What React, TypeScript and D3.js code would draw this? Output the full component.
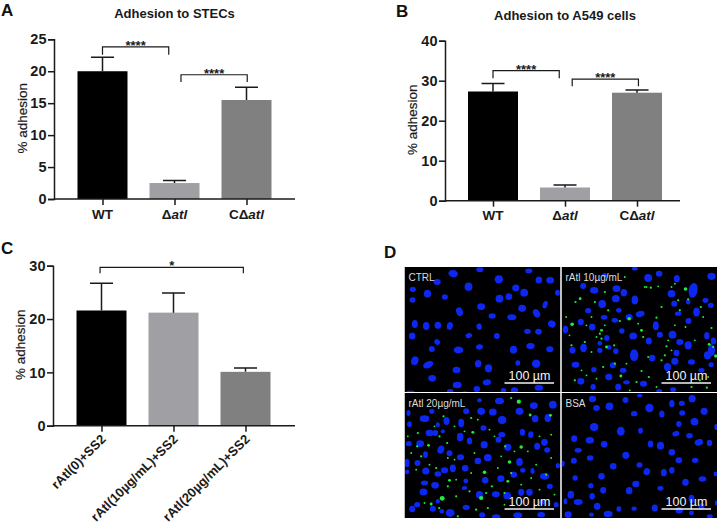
import React, { useEffect, useRef } from "react";
import * as d3 from "d3";

const FONT = "'Liberation Sans', Arial, sans-serif";

// Panel A
const stecValues = [20, 2.5, 15.5];
const stecErrors = [22.2, 2.9, 17.5];
const stecTicks = [0, 5, 10, 15, 20, 25];
// Panel B
const a549Values = [27.3, 3.3, 27];
const a549Errors = [29.3, 3.9, 27.7];
const a549Ticks = [0, 10, 20, 30, 40];
// Panel C
const ratlValues = [21.6, 21.2, 10.1];
const ratlErrors = [26.7, 24.9, 10.8];
const ratlTicks = [0, 10, 20, 30];
const ratlLabels = ["rAtl(0)+SS2", "rAtl(10µg/mL)+SS2", "rAtl(20µg/mL)+SS2"];
const barColors = ["#000000", "#a0a0a4", "#808080"];
const strainPrefix = ["WT", "Δ", "CΔ"];
const strainItalic = ["", "atl", "atl"];

// brackets: x from, x to (category position), top value, foot value, star text
const stecBrackets = [[0, 0.92, 23.8, 22.6, "****"], [1.09, 2.01, 19.45, 18.3, "****"]];
const a549Brackets = [[0, 0.92, 32.5, 30.6, "****"], [1.1, 2.02, 30.4, 28.6, "****"]];
const ratlBrackets = [[-0.02, 1.97, 29.7, 28.6, "*"]];

// micrograph nuclei [x, y, rx, ry, angle] and green foci [x, y, r], in units of a 471x381 field
const ctrlCells = [[146,20,16,12,10],[226,8,12,8,0],[373,12,12,8,0],[98,45,12,10,0],[283,37,14,14,0],[403,39,11,12,0],[437,40,13,11,0],[192,59,13,14,0],[25,67,10,9,0],[69,80,12,13,0],[334,63,12,12,0],[359,77,13,13,0],[459,77,8,10,0],[121,90,10,9,0],[24,99,10,9,0],[285,95,13,13,0],[313,89,11,11,0],[230,119,13,11,0],[165,134,11,15,-20],[353,124,13,12,0],[422,113,8,13,20],[396,139,11,15,-30],[263,147,12,9,0],[322,151,15,10,0],[442,171,13,12,30],[31,171,10,13,0],[65,177,11,13,0],[100,175,11,12,0],[136,177,10,13,15],[224,179,9,11,-10],[369,193,11,9,0],[402,194,11,10,0],[23,207,11,12,0],[193,206,11,8,-15],[277,207,10,10,0],[98,225,10,9,40],[225,240,12,9,-10],[378,237,14,10,-5],[82,246,10,10,0],[162,249,16,12,0],[327,248,12,13,0],[436,247,12,10,0],[31,281,12,15,20],[71,293,18,11,-25],[221,290,11,12,0],[340,288,8,9,0],[395,290,14,14,0],[252,304,12,14,0],[156,309,13,11,0],[83,334,13,11,0],[247,346,14,10,-10],[158,354,15,11,0],[217,366,11,10,0],[297,371,9,9,0],[330,370,12,10,0],[403,362,14,10,0],[137,372,11,7,0],[18,376,14,6,0],[181,378,10,6,0]];
const low10Cells = [[260,33,13,13,0],[293,20,11,10,0],[220,5,10,6,0],[346,35,10,12,0],[450,28,14,12,0],[395,70,15,25,10],[98,70,14,11,0],[65,57,10,10,0],[165,65,13,11,0],[187,77,11,12,0],[130,25,9,8,0],[330,80,13,12,0],[122,111,13,13,0],[163,95,13,12,0],[220,99,11,15,0],[432,100,10,9,0],[338,110,10,10,0],[380,105,8,8,0],[405,135,11,15,0],[448,115,10,9,0],[80,131,10,9,0],[172,130,9,8,0],[128,151,11,8,0],[236,141,15,10,-15],[203,150,12,10,0],[350,140,11,7,0],[381,162,10,10,0],[58,165,10,11,0],[160,160,11,8,0],[12,187,9,13,0],[92,180,11,12,0],[283,176,10,15,0],[181,192,9,9,0],[295,203,10,10,0],[333,203,13,13,0],[215,207,13,12,0],[436,206,9,12,0],[136,213,9,10,0],[262,222,10,12,0],[115,229,8,8,0],[33,250,10,11,0],[66,243,11,14,0],[143,241,8,8,0],[163,253,9,10,0],[115,250,9,9,0],[355,225,12,10,0],[380,235,12,14,0],[456,222,9,12,0],[345,258,10,11,0],[218,265,14,20,0],[272,273,11,11,0],[450,250,12,20,0],[438,265,12,14,0],[340,283,12,12,0],[390,285,12,9,0],[154,295,10,10,0],[42,293,13,10,0],[318,300,12,13,0],[420,310,10,8,0],[449,293,9,8,0],[185,310,11,9,0],[97,308,9,9,0],[142,330,12,11,0],[58,343,12,11,0],[195,346,11,7,0],[246,350,12,10,0],[170,360,10,12,0],[95,360,9,10,0],[293,372,10,7,0],[335,368,10,8,0]];
const low10Foci = [[372,66,4],[56,95,3],[32,172,4],[120,190,3],[203,155,4],[130,75,2],[100,105,2],[140,130,2],[175,162,2],[240,190,3],[245,210,2],[285,152,2],[300,120,2],[350,100,2],[380,97,2],[268,62,2],[255,60,1.5],[290,58,1.5],[330,60,1.5],[355,130,2],[418,120,2],[450,183,2],[340,175,1.5],[315,238,2],[310,265,2],[443,232,3],[463,267,4],[455,240,2],[135,240,3],[120,215,2],[115,200,2],[158,235,2],[30,235,2],[24,205,1.5],[70,225,2],[105,210,1.5],[178,327,3],[160,290,2],[125,300,2],[240,312,2],[262,330,2],[40,340,2],[75,325,1.5],[105,335,1.5],[225,345,2],[300,280,2],[330,250,1.5],[425,150,1.5],[415,340,2],[436,362,2],[390,360,2],[285,360,1.5],[205,370,1.5],[14,150,1.5],[42,105,2],[90,150,1.5],[75,175,1.5],[230,170,1.5],[250,60,1.5],[190,30,1.5],[340,50,1.5],[60,310,1.5],[90,255,1.5],[195,290,1.5],[260,270,1.5],[320,220,1.5],[372,180,1.5],[400,220,1.5],[440,330,1.5],[130,175,1.5]];
const high20Cells = [[285,24,15,11,0],[225,22,8,7,0],[388,38,13,11,0],[445,35,13,13,0],[345,55,13,12,0],[230,55,13,12,0],[265,57,13,12,0],[185,55,10,10,0],[12,60,7,10,0],[82,55,9,9,0],[60,77,16,11,0],[293,81,14,13,0],[392,77,11,12,0],[430,75,11,13,0],[126,84,10,13,0],[170,90,10,14,0],[15,94,8,10,0],[100,95,7,8,0],[237,105,10,9,0],[75,120,13,11,0],[92,120,10,10,0],[115,115,7,7,0],[354,118,9,12,0],[379,125,9,11,0],[167,132,11,14,0],[195,144,9,12,0],[292,125,12,9,0],[282,140,10,10,0],[47,152,13,11,0],[13,152,10,9,0],[239,155,12,12,0],[109,170,11,14,20],[420,148,11,12,0],[398,160,10,12,0],[310,163,12,12,0],[428,171,10,9,0],[135,181,10,10,0],[63,185,8,11,0],[168,193,12,10,0],[250,194,13,12,0],[220,204,11,11,0],[345,207,11,13,0],[8,210,8,14,0],[39,210,10,10,0],[145,226,10,13,0],[182,226,11,11,0],[64,234,12,12,0],[120,232,12,10,0],[100,243,11,9,0],[8,237,7,8,0],[355,232,9,8,0],[384,234,7,10,0],[242,262,11,11,0],[328,245,11,10,0],[289,257,12,11,0],[420,250,15,11,0],[460,218,7,9,0],[60,270,12,8,0],[92,277,13,11,0],[184,264,8,8,0],[180,285,9,7,0],[436,280,10,9,0],[225,305,12,12,0],[57,297,13,12,0],[375,298,11,12,0],[350,298,10,12,0],[274,304,13,10,0],[308,308,13,12,0],[100,325,7,8,0],[38,335,10,9,0],[23,348,10,11,0],[85,347,10,10,0],[185,343,12,9,0],[137,360,15,13,0],[112,355,8,8,0],[412,328,10,8,0],[275,372,14,9,0],[233,366,10,9,0],[340,367,15,10,0],[410,365,13,9,0],[455,335,8,9,0]];
const high20Foci = [[343,26,5],[377,66,3],[438,67,3],[320,15,2],[200,75,2],[205,118,3],[117,70,2],[40,120,2],[72,157,3],[128,150,2],[105,130,2],[350,162,4],[302,160,2],[315,207,4],[240,238,4],[135,262,3],[113,316,6],[230,315,5],[80,333,3],[104,345,2],[130,280,2],[95,225,2],[310,265,3],[262,280,2],[245,300,2],[300,300,2],[155,310,2],[38,160,2],[35,230,1.5],[50,190,2],[20,180,1.5],[195,295,2],[215,350,2],[160,370,2],[250,345,2],[60,330,1.5],[270,130,1.5],[255,110,1.5],[220,80,1.5],[180,115,1.5],[290,190,1.5],[330,175,1.5],[370,175,1.5],[395,215,1.5],[320,240,2],[425,245,2],[380,255,1.5],[350,275,1.5],[300,335,1.5],[405,290,1.5],[450,305,1.5],[440,195,1.5],[440,125,1.5],[405,130,1.5],[150,100,1.5],[10,130,1.5],[150,200,1.5],[210,180,1.5],[280,225,1.5],[200,240,1.5],[155,260,1.5],[75,215,1.5],[130,195,1.5],[90,100,1.5]];
const bsaCells = [[93,18,12,11,0],[192,21,10,10,0],[235,8,9,6,0],[392,17,12,12,0],[105,45,11,10,0],[144,40,13,13,0],[264,45,14,14,0],[331,32,9,12,0],[361,31,10,9,0],[428,55,12,12,0],[218,62,11,9,0],[301,63,9,12,0],[362,60,10,9,0],[399,86,13,12,0],[352,93,9,10,0],[464,102,6,10,0],[98,102,14,13,0],[178,115,13,15,0],[237,113,8,10,0],[343,122,12,9,-20],[384,128,11,9,0],[38,137,10,11,0],[85,142,14,11,0],[128,154,11,11,0],[267,153,9,12,0],[297,158,12,13,0],[412,148,14,11,-15],[444,150,9,11,0],[50,172,12,8,0],[331,178,11,11,0],[193,187,12,12,0],[86,195,11,9,0],[352,202,11,10,0],[401,202,11,9,0],[37,203,10,10,0],[5,212,5,10,0],[155,220,11,11,0],[234,216,10,9,0],[256,236,11,12,20],[307,239,10,12,0],[331,232,9,11,0],[463,243,8,8,0],[41,255,9,9,0],[120,250,11,11,0],[372,268,11,12,0],[423,258,13,9,0],[223,273,12,11,0],[88,278,9,9,0],[297,286,10,8,0],[203,293,11,12,0],[125,292,10,11,0],[28,305,11,13,0],[92,310,9,11,0],[50,327,15,10,0],[12,325,6,10,0],[107,340,11,12,0],[90,365,8,7,0],[140,363,15,11,0],[172,348,8,9,0],[218,347,9,7,0],[280,345,10,12,0],[20,365,12,11,0],[353,352,12,11,0],[390,318,10,14,0],[420,340,10,10,0],[465,330,6,9,0],[445,370,10,7,0],[390,360,8,8,0]];
const fieldLabels = ["CTRL", "rAtl 10µg/mL", "rAtl 20µg/mL", "BSA"];

type Cfg = {
  values: number[]; errors: number[]; ticks: number[]; domainMax: number;
  x0: number; axisEnd: number; y0: number; yTop: number; first: number;
  brackets: any[]; title?: string; titleY?: number; labelX: number;
};

function drawBarPanel(svg: any, c: Cfg) {
  const g = svg.append("g").attr("font-family", FONT);
  const y = d3.scaleLinear().domain([0, c.domainMax]).range([c.y0, c.yTop]);
  const x = d3.scaleLinear().domain([0, 2]).range([c.first, c.first + 144]);
  const BW = 50;
  g.selectAll("rect.b").data(c.values).join("rect").attr("class", "b")
    .attr("x", (_: any, i: number) => x(i) - BW / 2).attr("width", BW)
    .attr("y", (d: number) => y(d)).attr("height", (d: number) => c.y0 - y(d))
    .attr("fill", (_: any, i: number) => barColors[i]);
  const ink = "#1a1a1a";
  c.errors.forEach((e, i) => {
    const p = d3.path();
    p.moveTo(x(i), y(c.values[i])); p.lineTo(x(i), y(e));
    p.moveTo(x(i) - 11.5, y(e)); p.lineTo(x(i) + 11.5, y(e));
    g.append("path").attr("d", p.toString()).attr("stroke", ink).attr("stroke-width", 1.5).attr("fill", "none");
  });
  const yAxis = d3.axisLeft(y).tickValues(c.ticks).tickSize(6).tickPadding(1.5).tickFormat(d3.format("d") as any);
  const ya = g.append("g").attr("transform", `translate(${c.x0},0)`).call(yAxis);
  const xAxis = d3.axisBottom(x).tickValues([0, 1, 2]).tickSize(6).tickFormat(() => "");
  const xa = g.append("g").attr("transform", `translate(0,${c.y0})`).call(xAxis);
  xa.select(".domain").attr("d", `M${c.x0},0H${c.axisEnd}`);
  ya.selectAll("path,line").attr("stroke", ink).attr("stroke-width", 1.5);
  xa.selectAll("path,line").attr("stroke", ink).attr("stroke-width", 1.5);
  ya.selectAll("text").attr("font-family", FONT).attr("font-size", 14.5).attr("font-weight", 700).attr("fill", "#1a1a1a");
  c.brackets.forEach((b) => {
    const p = d3.path();
    p.moveTo(x(b[0]), y(b[3])); p.lineTo(x(b[0]), y(b[2])); p.lineTo(x(b[1]), y(b[2])); p.lineTo(x(b[1]), y(b[3]));
    g.append("path").attr("d", p.toString()).attr("fill", "none").attr("stroke", ink).attr("stroke-width", 1.2);
    g.append("text").attr("x", x((b[0] + b[1]) / 2)).attr("y", y(b[2]) + 3).attr("text-anchor", "middle")
      .attr("font-size", 13).attr("font-weight", 700).attr("fill", ink).text(b[4]);
  });
  if (c.title) g.append("text").attr("x", x(1)).attr("y", c.titleY).attr("text-anchor", "middle")
    .attr("font-size", 13).attr("font-weight", 700).attr("fill", ink).text(c.title);
  g.append("text").attr("transform", `translate(${c.labelX},${(c.y0 + c.yTop) / 2 - 1}) rotate(-90)`)
    .attr("text-anchor", "middle").attr("font-size", 13.5).attr("fill", ink).attr("stroke", ink).attr("stroke-width", 0.2).text("% adhesion");
  return { x, y, g };
}

function strainLabels(g: any, x: any, y: number) {
  strainPrefix.forEach((s, i) => {
    const t = g.append("text").attr("x", x(i)).attr("y", y).attr("text-anchor", "middle")
      .attr("font-size", 13.5).attr("font-weight", 700).attr("fill", "#1a1a1a");
    t.append("tspan").text(s);
    if (strainItalic[i]) t.append("tspan").attr("font-style", "italic").text(strainItalic[i]);
  });
}

function drawField(svg: any, id: string, left: number, top: number, w: number, h: number, cells: number[][], foci: number[][], label: string) {
  const sx = d3.scaleLinear().domain([0, 471]).range([left - 0, left + 157]);
  const sy = d3.scaleLinear().domain([0, 381]).range([top, top + 127]);
  svg.append("clipPath").attr("id", id).append("rect").attr("x", left).attr("y", top).attr("width", w).attr("height", h);
  const g = svg.append("g").attr("clip-path", `url(#${id})`);
  g.append("rect").attr("x", left).attr("y", top).attr("width", w).attr("height", h).attr("fill", "#000003");
  const nuc = g.append("g").attr("filter", "url(#soft)");
  nuc.selectAll("ellipse").data(cells).join("ellipse")
    .attr("rx", (d: number[]) => d[2] * 0.3).attr("ry", (d: number[]) => d[3] * 0.3)
    .attr("transform", (d: number[]) => `translate(${sx(d[0])},${sy(d[1])}) rotate(${d[4]})`)
    .attr("fill", "#0a28f0");
  const foc = g.append("g").attr("filter", "url(#softer)");
  foc.selectAll("circle").data(foci).join("circle")
    .attr("cx", (d: number[]) => sx(d[0])).attr("cy", (d: number[]) => sy(d[1])).attr("r", (d: number[]) => d[2] / 3 + 0.45)
    .attr("fill", "#1cf03c");
  g.append("text").attr("x", left + 4).attr("y", top + 14).attr("font-family", FONT).attr("font-size", 10)
    .attr("fill", "#dcdcdc").text(label);
  g.append("line").attr("x1", left + 100).attr("x2", left + 149.5).attr("y1", top + 116).attr("y2", top + 116)
    .attr("stroke", "#f4f4f4").attr("stroke-width", 1.3);
  g.append("text").attr("x", left + 125).attr("y", top + 113).attr("text-anchor", "middle").attr("font-family", FONT)
    .attr("font-size", 12.5).attr("fill", "#f4f4f4").text("100 µm");
}

export default function App() {
  const ref = useRef<SVGSVGElement | null>(null);
  useEffect(() => {
    const svg = d3.select(ref.current!);
    svg.selectAll("*").remove();
    const defs = svg.append("defs");
    defs.append("filter").attr("id", "soft").append("feGaussianBlur").attr("stdDeviation", 0.7);
    defs.append("filter").attr("id", "softer").append("feGaussianBlur").attr("stdDeviation", 0.4);

    const a = drawBarPanel(svg, { values: stecValues, errors: stecErrors, ticks: stecTicks, domainMax: 25, x0: 54, axisEnd: 295, y0: 199, yTop: 39.3, first: 102.5, brackets: stecBrackets, title: "Adhesion to STECs", titleY: 18, labelX: 27 });
    strainLabels(a.g, a.x, 219);
    const b = drawBarPanel(svg, { values: a549Values, errors: a549Errors, ticks: a549Ticks, domainMax: 40, x0: 445, axisEnd: 680, y0: 200.7, yTop: 40.7, first: 493, brackets: a549Brackets, title: "Adhesion to A549 cells", titleY: 19.5, labelX: 417 });
    strainLabels(b.g, b.x, 220);
    const c = drawBarPanel(svg, { values: ratlValues, errors: ratlErrors, ticks: ratlTicks, domainMax: 30, x0: 53, axisEnd: 295, y0: 425.7, yTop: 265.7, first: 101.5, brackets: ratlBrackets, labelX: 25 });
    ratlLabels.forEach((l, i) => {
      c.g.append("text").attr("transform", `translate(${c.x(i) + 5},${440}) rotate(-45)`).attr("text-anchor", "end")
        .attr("font-size", 13).attr("font-weight", 700).attr("fill", "#1a1a1a").text(l);
    });

    [["A", 1, 15.5], ["B", 396, 16.5], ["C", 1, 254], ["D", 384, 258]].forEach(([t, px, py]) => {
      svg.append("text").attr("x", px as number).attr("y", py as number).attr("font-family", FONT)
        .attr("font-size", 17).attr("font-weight", 700).attr("fill", "#111").text(t as string);
    });

    drawField(svg, "f1", 404.5, 267, 156, 125, ctrlCells, [], fieldLabels[0]);
    drawField(svg, "f2", 561.5, 267, 155.5, 125, low10Cells, low10Foci, fieldLabels[1]);
    drawField(svg, "f3", 404.5, 393, 156, 125, high20Cells, high20Foci, fieldLabels[2]);
    drawField(svg, "f4", 561.5, 393, 155.5, 125, bsaCells, [], fieldLabels[3]);
  }, []);
  return <svg ref={ref} width={717} height={526} style={{ position: "absolute", left: 0, top: 0, background: "#fff" }} />;
}
